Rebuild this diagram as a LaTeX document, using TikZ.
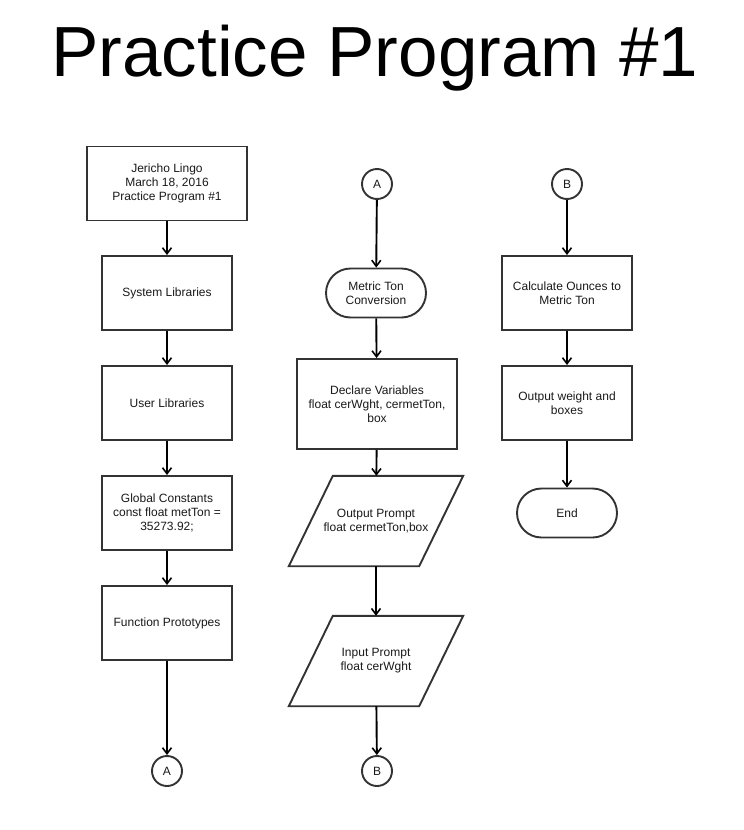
\documentclass[tikz,border=0pt]{standalone}
\usepackage{fontspec}
\setmainfont{Liberation Sans}
\usetikzlibrary{arrows.meta,shapes.misc}
\definecolor{edge}{HTML}{333333}
\tikzset{
  base/.style={draw=edge, line width=1.9pt, align=center, text=black!90,
    font=\fontsize{12}{14}\selectfont, inner sep=0pt},
  proc/.style={base, rectangle, minimum width=#1, minimum height=74pt},
  term/.style={base, rounded rectangle, minimum width=100pt, minimum height=49pt},
  conn/.style={base, circle, minimum size=30pt},
  io/.style={rectangle, align=center, text=black!90, font=\fontsize{12}{14}\selectfont,
    inner sep=0pt, minimum width=130pt, minimum height=90pt},
  para/.style={draw=edge, line width=1.9pt, line join=miter},
  flow/.style={line width=1.9pt, -{Straight Barb[length=6pt,width=9pt,line width=1.6pt]}}
}
\begin{document}
\begin{tikzpicture}[x=1pt,y=-1pt]
\useasboundingbox (0,0) rectangle (744,830);
\node[anchor=base, font=\fontsize{71}{74}\selectfont, inner sep=0pt] (title) at (375,76) {Practice Program \#1};
% left column
\node[proc=160pt] (hdr) at (167,183.5) {Jericho Lingo\\March 18, 2016\\Practice Program \#1};
\node[proc=130pt] (sys) at (167,293) {System Libraries};
\node[proc=130pt] (usr) at (167,403) {User Libraries};
\node[proc=130pt] (glob) at (167,513) {Global Constants\\const float metTon =\\35273.92;};
\node[proc=130pt] (func) at (167,623) {Function Prototypes};
\node[conn] (ca1) at (167,771) {A};
% middle column
\node[conn] (ca2) at (377,184) {A};
\node[term] (mtc) at (376,293) {Metric Ton\\Conversion};
\node[base, rectangle, minimum width=160pt, minimum height=90pt] (decl) at (377,404) {Declare Variables\\float cerWght, cermetTon,\\box};
\node[io] (outp) at (376,521) {Output Prompt\\float cermetTon,box};
\draw[para] ([xshift=22pt]outp.north west) -- ([xshift=22pt]outp.north east)
  -- ([xshift=-22pt]outp.south east) -- ([xshift=-22pt]outp.south west) -- cycle;
\node[io] (inp) at (376,661) {Input Prompt\\float cerWght};
\draw[para] ([xshift=22pt]inp.north west) -- ([xshift=22pt]inp.north east)
  -- ([xshift=-22pt]inp.south east) -- ([xshift=-22pt]inp.south west) -- cycle;
\node[conn] (cb1) at (377,771) {B};
% right column
\node[conn] (cb2) at (567,184) {B};
\node[proc=130pt] (calc) at (567,293) {Calculate Ounces to\\Metric Ton};
\node[proc=130pt] (outw) at (567,403) {Output weight and\\boxes};
\node[term] (end) at (567,513) {End};
% connectors
\draw[flow] (hdr) -- (sys);
\draw[flow] (sys) -- (usr);
\draw[flow] (usr) -- (glob);
\draw[flow] (glob) -- (func);
\draw[flow] (func) -- (ca1);
\draw[flow] (ca2) -- (mtc);
\draw[flow] (mtc) -- (decl);
\draw[flow] (decl) -- (outp);
\draw[flow] (outp) -- (inp);
\draw[flow] (inp) -- (cb1);
\draw[flow] (cb2) -- (calc);
\draw[flow] (calc) -- (outw);
\draw[flow] (outw) -- (end);
\end{tikzpicture}
\end{document}
